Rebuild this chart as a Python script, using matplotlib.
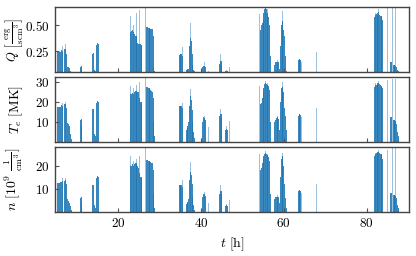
import matplotlib
matplotlib.use("Agg")
import matplotlib.pyplot as plt
from matplotlib.ticker import FuncFormatter

plt.rcParams['mathtext.fontset'] = 'cm'
plt.rcParams['font.family'] = 'DejaVu Serif'

# dense (dark) samples
t_dark = [5.5, 5.75, 6.0, 6.25, 6.5, 6.75, 7.0, 7.25, 7.5, 7.75, 8.0, 8.25, 8.5, 8.75,
          10.9, 11.1, 11.3,
          13.9, 14.1, 14.35, 14.6, 14.9, 15.15, 15.4,
          23.1, 23.3, 23.5, 23.7, 23.9, 24.2, 24.4, 24.6, 24.8, 25.0, 25.2, 25.4, 25.6, 25.8,
          26.9, 27.1, 27.3, 27.5, 27.7, 27.9, 28.1, 28.3, 28.5, 28.7, 28.9,
          34.8, 35.0, 35.2, 35.4, 35.6,
          36.5, 36.7, 36.9, 37.1, 37.3, 37.5, 37.7, 37.9, 38.1, 38.3, 38.5,
          40.5, 40.7, 40.9, 41.1,
          44.5, 44.7, 44.9, 45.1,
          46.0, 46.2, 46.4,
          54.4, 54.6, 54.8, 55.0, 55.2, 55.4, 55.6, 55.8, 56.0, 56.2, 56.4, 56.6, 56.8,
          57.8, 58.0, 58.2, 58.4, 58.6, 58.8, 59.0, 59.2, 59.4, 59.6, 59.8, 60.0, 60.2, 60.4, 60.6,
          63.5, 63.7, 63.9, 64.1,
          81.9, 82.1, 82.3, 82.5, 82.7, 82.9, 83.1, 83.3, 83.5, 83.7, 83.9,
          85.8, 86.0, 86.4, 86.6, 86.8, 87.0, 87.2, 87.4, 87.6, 87.8]
T_dark = [17.5, 17.5, 17.8, 17.5, 18.5, 18, 19, 19, 17, 9.5, 9, 8, 4, 1.5,
          11, 11.5, 8,
          16.5, 16.6, 4, 3, 19.5, 20.5, 20,
          24, 24, 24.5, 24, 25, 25.8, 25.8, 25.5, 25, 25, 22, 20, 20, 19,
          27.5, 27.5, 27, 27, 26.5, 26, 25.5, 25, 22, 10, 3,
          18, 18.3, 18, 18.3, 17,
          6, 7, 8, 10, 18, 23.3, 21, 16, 10, 5, 2,
          10, 12.5, 12, 11,
          13, 14, 14, 12,
          6, 6.7, 6,
          19, 19.5, 22, 25, 27, 29, 29.5, 29, 28.5, 28.5, 28, 26, 10,
          10, 11, 12, 12.5, 12, 11.5, 6, 20, 27, 27.5, 27, 25, 17, 13, 6,
          13, 14, 14, 13.5,
          27.5, 28.6, 28.8, 29, 29.5, 29.8, 29, 28.6, 28, 27.8, 27,
          12.8, 12.8, 11, 11, 11, 10.5, 9, 5, 3, 1]
Q_dark = [0.25, 0.25, 0.24, 0.24, 0.26, 0.25, 0.27, 0.27, 0.22, 0.10, 0.095, 0.085, 0.06, 0.05,
          0.10, 0.11, 0.08,
          0.22, 0.23, 0.07, 0.06, 0.31, 0.33, 0.32,
          0.44, 0.445, 0.45, 0.44, 0.42, 0.40, 0.40, 0.39, 0.33, 0.32, 0.32, 0.32, 0.31, 0.30,
          0.48, 0.48, 0.47, 0.47, 0.47, 0.46, 0.46, 0.46, 0.40, 0.10, 0.06,
          0.21, 0.22, 0.22, 0.22, 0.20,
          0.065, 0.07, 0.075, 0.08, 0.30, 0.38, 0.35, 0.22, 0.12, 0.07, 0.055,
          0.10, 0.11, 0.11, 0.10,
          0.13, 0.15, 0.15, 0.12,
          0.055, 0.06, 0.055,
          0.45, 0.50, 0.52, 0.55, 0.62, 0.66, 0.68, 0.66, 0.62, 0.60, 0.58, 0.50, 0.20,
          0.12, 0.14, 0.14, 0.14, 0.14, 0.14, 0.08, 0.30, 0.50, 0.54, 0.54, 0.45, 0.40, 0.20, 0.06,
          0.16, 0.17, 0.17, 0.16,
          0.58, 0.60, 0.61, 0.60, 0.62, 0.63, 0.60, 0.59, 0.59, 0.58, 0.55,
          0.14, 0.14, 0.12, 0.12, 0.12, 0.11, 0.10, 0.07, 0.055, 0.05]
n_dark = [12.4, 12.6, 12.4, 12.8, 13, 13.5, 13.5, 14, 12, 5.5, 5, 4, 2.5, 1,
          6, 6.4, 4,
          11.5, 11.7, 3, 2, 14.5, 15.6, 15,
          20, 20, 20.5, 20, 20.5, 21, 21, 20.5, 20, 19, 17, 15.3, 15, 14.5,
          22.4, 22.4, 22, 22, 21.8, 21.5, 21.2, 21, 18, 8, 2,
          11.5, 11.7, 11.7, 11.5, 11,
          3.5, 4, 4.5, 5.5, 14, 17.4, 16, 12, 7, 3, 1,
          6.5, 8, 8, 7,
          8, 9, 9, 7.5,
          2.5, 3.1, 2.5,
          18, 19, 21, 23, 24, 25, 25.5, 25, 24.5, 24, 23.5, 22, 8,
          5.5, 6.7, 6.7, 6.7, 6.7, 6.5, 4, 15, 23, 24, 24, 20, 12, 6, 2,
          9, 9.6, 9.6, 9,
          24, 25, 25.3, 25.5, 26, 26, 25.5, 25, 24.8, 24.5, 23,
          8.1, 8.1, 7.4, 7.4, 7.4, 7, 6, 3, 2, 1]

# isolated (light) spikes
t_light = [6.6, 7.3, 15.2, 23.0, 23.8, 24.4, 25.3, 26.7, 35.5, 37.5, 40.9, 41.9, 43.9, 44.8,
           46.3, 46.9, 54.1, 55.5, 56.1, 58.5, 59.7, 64.3, 68.0, 82.1, 82.9, 85.1, 86.2, 87.0]
T_light = [19.8, 20.2, 21, 28.3, 27, 28.5, 30, 32.5, 19.5, 26.6, 13, 7.5, 9, 16.6,
           8, 10.5, 28.3, 30.8, 29.5, 13.3, 30, 12.8, 17.3, 29.5, 30.5, 31, 31.6, 31.6]
Q_light = [0.30, 0.32, 0.34, 0.59, 0.50, 0.62, 0.65, 0.75, 0.29, 0.526, 0.14, 0.055, 0.096, 0.22,
           0.065, 0.10, 0.605, 0.75, 0.66, 0.16, 0.64, 0.14, 0.24, 0.62, 0.66, 0.75, 0.75, 0.75]
n_light = [14.5, 14.8, 16, 24, 22, 23, 23.9, 28.5, 13.8, 21.7, 8.5, 4, 5.3, 11.7,
           3.5, 5.3, 25, 26.3, 25, 7.5, 25.3, 8.1, 12, 25.5, 26.8, 26.7, 27.5, 28.5]

color = '#1f77b4'
fig = plt.figure(figsize=(4.16, 2.56), dpi=100)
pos = [0.7176, 0.4445, 0.171]
axes = [fig.add_axes([0.132, b, 0.852, 0.256]) for b in pos]

series = [(Q_dark, Q_light), (T_dark, T_light), (n_dark, n_light)]
ylims = [(0.045, 0.68), (0, 32.8), (0, 28.1)]
yticks = [[0.25, 0.50], [10, 20, 30], [10, 20]]
labels = [r"$Q\ \left[\frac{\mathrm{erg}}{\mathrm{s\,cm^3}}\right]$",
          r"$T_e\ [\mathrm{MK}]$",
          r"$n\ [10^9\ \frac{1}{\mathrm{cm^3}}]$"]
label_x = [-0.082, -0.085, -0.085]
label_fs = [9, 10, 10]
fmts = [lambda v, p: f"${v:.2f}$", lambda v, p: f"${v:g}$", lambda v, p: f"${v:g}$"]

for ax, (dv, lv), yl, yt, lab, lx, lfs, fm in zip(axes, series, ylims, yticks, labels,
                                                   label_x, label_fs, fmts):
    ax.bar(t_light, lv, width=0.22, color=color, alpha=0.45, linewidth=0)
    ax.bar(t_dark, dv, width=0.24, color=color, alpha=0.88, linewidth=0)
    ax.set_xlim(4.8, 90.3)
    ax.set_ylim(*yl)
    ax.set_yticks(yt)
    ax.yaxis.set_major_formatter(FuncFormatter(fm))
    ax.set_xticks([20, 40, 60, 80])
    ax.tick_params(direction='in', length=3, colors='#555555', labelcolor='black', labelsize=9.5)
    for s in ax.spines.values():
        s.set_color('#444444')
        s.set_linewidth(1.0)
    ax.set_ylabel(lab, fontsize=lfs)
    ax.yaxis.set_label_coords(lx, 0.5)

for ax in axes[:2]:
    ax.set_xticklabels([])
axes[2].xaxis.set_major_formatter(FuncFormatter(lambda v, p: f"${v:g}$"))
axes[2].set_xlabel(r"$t\ [\mathrm{h}]$", fontsize=10, labelpad=4)

fig.savefig("out.png", dpi=100)
